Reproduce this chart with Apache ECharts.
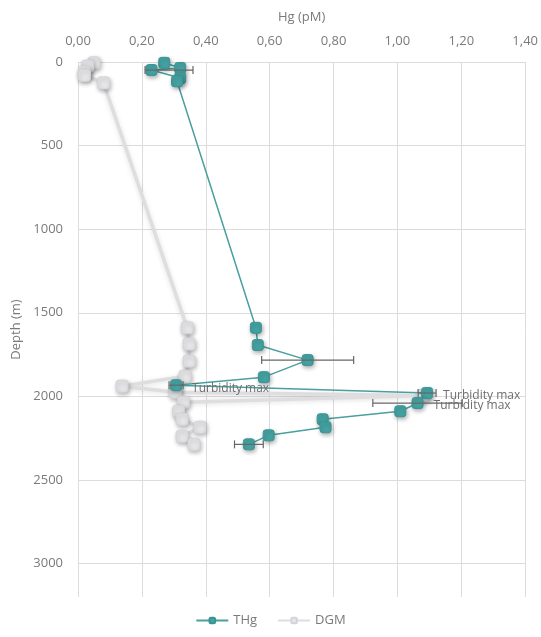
<!DOCTYPE html>
<html>
<head>
<meta charset="utf-8">
<script src="https://cdn.jsdelivr.net/npm/echarts@6/dist/echarts.min.js"></script>
<style>
html,body{margin:0;padding:0;background:#fff;}
#c{width:541px;height:637px;}
</style>
</head>
<body>
<div id="c"></div>
<script>
// ---- data ----
const xTicks = [0, 0.2, 0.4, 0.6, 0.8, 1.0, 1.2, 1.4];
const depthTicks = [0, 500, 1000, 1500, 2000, 2500, 3000];

const thgHg    = [0.27, 0.32, 0.23, 0.32, 0.31, 0.557, 0.563, 0.719, 0.582, 0.307, 1.093, 1.063, 1.009, 0.766, 0.775, 0.597, 0.535];
const thgDepth = [5, 36, 48, 96, 115, 1590, 1693, 1783, 1885, 1933, 1980, 2040, 2089, 2137, 2185, 2233, 2287];
const thgLabels = ['', '', '', '', '', '', '', '', '', 'Turbidity max', 'Turbidity max', 'Turbidity max', '', '', '', '', ''];

const dgmHg    = [0.05, 0.03, 0.02, 0.02, 0.08, 0.342, 0.348, 0.348, 0.335, 0.138, 0.305, 1.08, 0.33, 0.315, 0.326, 0.382, 0.326, 0.363];
const dgmDepth = [5, 25, 60, 80, 125, 1590, 1687, 1789, 1879, 1939, 1975, 1995, 2035, 2089, 2137, 2185, 2239, 2287];

const errDepth  = [48, 1783, 1933, 1980, 2040, 2287];
const errCenter = [0.285, 0.719, 0.307, 1.093, 1.063, 0.535];
const errHalf   = [0.075, 0.144, 0.022, 0.028, 0.14, 0.045];

// ---- build ----
const FONT = '"Open Sans", sans-serif';
const thgData = thgHg.map((v, i) => ({ value: [v, thgDepth[i]], label: { show: !!thgLabels[i], formatter: thgLabels[i] } }));
const dgmData = dgmHg.map((v, i) => [v, dgmDepth[i]]);
const errData = errDepth.map((d, i) => [errCenter[i] - errHalf[i], errCenter[i] + errHalf[i], d]);

const chart = echarts.init(document.getElementById('c'), null, { renderer: 'canvas' });
chart.setOption({
  animation: false,
  backgroundColor: '#fff',
  textStyle: { fontFamily: FONT },
  grid: { left: 78, right: 15, top: 62, bottom: 40, containLabel: false },
  legend: {
    bottom: 5,
    left: 'center',
    itemWidth: 32,
    itemHeight: 7,
    itemGap: 20,
    textStyle: { color: '#7a7a7a', fontSize: 13, fontFamily: FONT },
    data: ['THg', 'DGM']
  },
  xAxis: {
    type: 'value',
    position: 'top',
    min: 0, max: 1.4, interval: 0.2,
    name: 'Hg (pM)',
    nameLocation: 'middle',
    nameGap: 38,
    nameTextStyle: { color: '#7a7a7a', fontSize: 13 },
    axisLine: { show: false },
    axisTick: { show: false },
    axisLabel: {
      color: '#7a7a7a', fontSize: 13, margin: 14,
      formatter: v => v.toFixed(2).replace('.', ',')
    },
    splitLine: { show: true, lineStyle: { color: '#dcdcdc', width: 1 } }
  },
  yAxis: {
    type: 'value',
    inverse: true,
    min: 0, max: 3200, interval: 500,
    name: 'Depth (m)',
    nameLocation: 'middle',
    nameGap: 53,
    nameRotate: 90,
    nameTextStyle: { color: '#7a7a7a', fontSize: 13 },
    axisLine: { show: false },
    axisTick: { show: false, customValues: depthTicks },
    axisLabel: { color: '#7a7a7a', fontSize: 13, margin: 15, customValues: depthTicks, formatter: v => String(v) },
    splitLine: { show: true, lineStyle: { color: '#dcdcdc', width: 1 } }
  },
  series: [
    {
      name: 'DGM',
      type: 'line',
      data: dgmData,
      z: 2,
      symbol: 'roundRect',
      symbolSize: 12,
      lineStyle: { color: '#dedee0', width: 3.5, shadowBlur: 5, shadowColor: 'rgba(0,0,0,0.12)', shadowOffsetY: 1 },
      itemStyle: { color: '#e6e6e9', borderColor: '#d4d4d8', borderWidth: 1, shadowBlur: 4, shadowColor: 'rgba(0,0,0,0.28)', shadowOffsetX: 1, shadowOffsetY: 2 }
    },
    {
      name: 'THg',
      type: 'line',
      data: thgData,
      z: 4,
      symbol: 'roundRect',
      symbolSize: 11,
      lineStyle: { color: '#4a9f9f', width: 1.5 },
      itemStyle: { color: '#45a3a3', borderColor: '#3a9494', borderWidth: 1, shadowBlur: 4, shadowColor: 'rgba(0,0,0,0.3)', shadowOffsetX: 1, shadowOffsetY: 2 },
      label: { show: false, position: 'right', distance: 10, offset: [0, 3], color: '#6e6e6e', fontSize: 12, fontFamily: FONT }
    },
    {
      name: 'err',
      type: 'custom',
      z: 5,
      silent: true,
      data: errData,
      encode: { x: [0, 1], y: 2 },
      renderItem: function (params, api) {
        const a = api.coord([api.value(0), api.value(2)]);
        const b = api.coord([api.value(1), api.value(2)]);
        const h = 4;
        const st = { stroke: '#666', lineWidth: 1.2, fill: null };
        return {
          type: 'group',
          children: [
            { type: 'line', shape: { x1: a[0], y1: a[1], x2: b[0], y2: b[1] }, style: st },
            { type: 'line', shape: { x1: a[0], y1: a[1] - h, x2: a[0], y2: a[1] + h }, style: st },
            { type: 'line', shape: { x1: b[0], y1: b[1] - h, x2: b[0], y2: b[1] + h }, style: st }
          ]
        };
      }
    }
  ]
});
</script>
</body>
</html>
